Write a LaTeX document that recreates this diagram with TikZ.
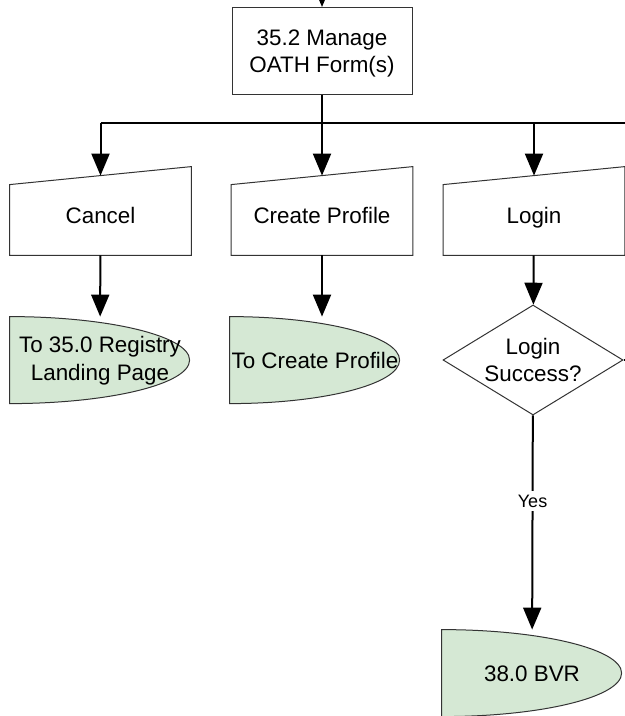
\documentclass[tikz,border=0pt]{standalone}
\usepackage{fontspec}
\setmainfont{Liberation Sans}
\usetikzlibrary{arrows.meta, calc, shapes.geometric, backgrounds}
\definecolor{offgreen}{HTML}{D5E8D4}
\definecolor{edgegray}{HTML}{333333}
\newcommand{\boxfont}{\fontsize{11.2pt}{13.8pt}\selectfont}
\tikzset{
  proc/.style={draw=edgegray, line width=0.5pt, minimum width=90pt, minimum height=43.5pt, inner sep=2pt, text depth=0pt, align=center, font=\boxfont},
  inp/.style={minimum width=90.5pt, minimum height=44pt, inner sep=0pt, text height=13pt, text depth=0pt, align=center, font=\boxfont},
  offp/.style={minimum height=43.5pt, inner sep=0pt, align=center, font=\boxfont},
  dec/.style={diamond, draw=edgegray, line width=0.5pt, minimum width=90pt, minimum height=55pt, aspect=1.64, inner sep=0pt, align=center, font=\boxfont},
  shp/.style={draw=edgegray, line width=0.5pt},
  wire/.style={line width=1pt},
  conn/.style={wire, -{Triangle[length=11pt, width=9pt]}},
  ylab/.style={fill=white, inner sep=2pt, font=\fontsize{9pt}{11pt}\selectfont}
}
% manual input outline, slanted top
\newcommand{\manin}[1]{%
  \draw[shp] (#1.south west) -- ($(#1.north west)+(0,-9pt)$) -- (#1.north east) -- (#1.south east) -- cycle;
  \coordinate (#1-top) at ($(#1.north)+(0,-4.5pt)$);}
% off-page half ellipse
\newcommand{\offpage}[2]{%
  \begin{pgfonlayer}{background}
    \filldraw[shp, fill=offgreen] (#1.north west) arc[start angle=90, end angle=-90, x radius=#2, y radius=21.75pt] -- cycle;
  \end{pgfonlayer}}

\begin{document}
\begin{tikzpicture}[x=0.5pt, y=-0.5pt]
  \useasboundingbox (0,0) rectangle (625,716);
  \clip (0,0) rectangle (625,716);
  \node[proc] (manage) at (322,51) {35.2 Manage\\OATH Form(s)};
  \node[inp] (cancel) at (100.5,211) {Cancel};
  \node[inp] (prof) at (322,211) {Create Profile};
  \node[inp] (login) at (534,211) {Login};
  \node[offp, minimum width=90pt] (toreg) at (100,360.5) {To 35.0 Registry\\Landing Page};
  \node[offp, minimum width=85pt] (toprof) at (315,360.5) {To Create Profile};
  \node[dec] (check) at (533,360) {Login\\Success?};
  \node[offp, minimum width=90pt] (bvr) at (532,673.5) {38.0 BVR};
  \manin{cancel} \manin{prof} \manin{login}
  \offpage{toreg}{90pt} \offpage{toprof}{85pt} \offpage{bvr}{90pt}
  \coordinate (in) at (322,-30);
  \coordinate (j) at (322,123);
  \coordinate (bend) at (660,123);
  \coordinate (no) at (660,360);
  \draw[conn] (in) -- (manage);
  \draw[wire] (manage) -- (j);
  \draw[wire] (j -| cancel) -- (bend);
  \draw[conn] (j -| cancel) -- (cancel-top);
  \draw[conn] (j) -- (prof-top);
  \draw[conn] (j -| login) -- (login-top);
  \draw[conn] (cancel) -- (toreg);
  \draw[conn] (prof) -- (prof |- toprof.north);
  \draw[conn] (login) -- (check);
  \draw[wire] (check) -- (no);
  \draw[conn] (check) -- node[ylab, pos=0.4] {Yes} (bvr);
\end{tikzpicture}
\end{document}
